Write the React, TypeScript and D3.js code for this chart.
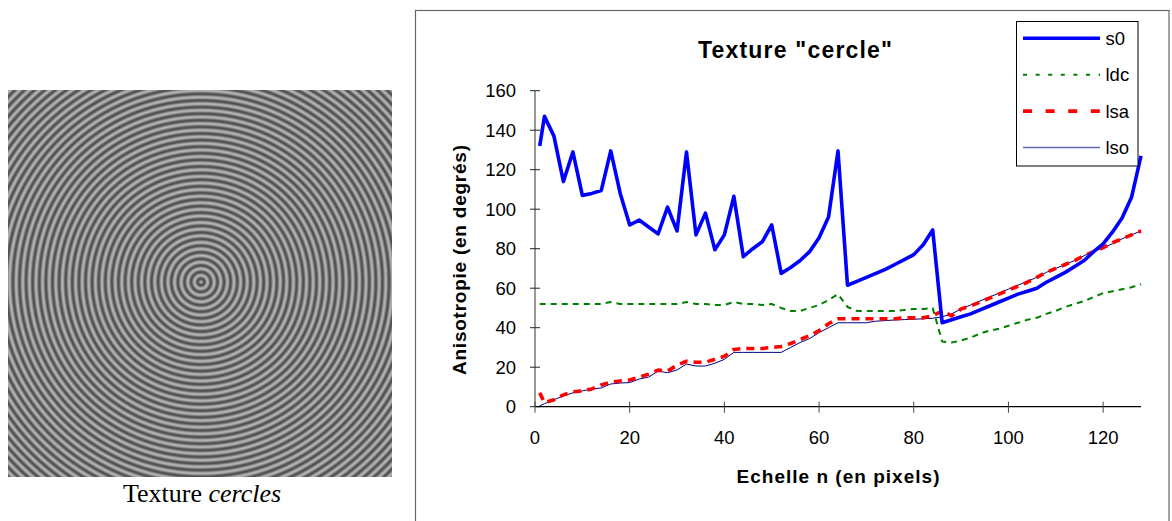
import React from "react";
import * as d3 from "d3";

// Echelle n (en pixels)
const scaleN = [1, 2, 4, 6, 8, 10, 12, 14, 16, 18, 20, 22, 24, 26, 28, 30, 32, 34, 36, 38, 40, 42, 44, 46, 48, 50, 52, 54, 56, 58, 60, 62, 64, 66, 68, 70, 72, 74, 76, 78, 80, 82, 84, 86, 88, 90, 92, 94, 96, 98, 100, 102, 104, 106, 108, 110, 112, 114, 116, 118, 120, 122, 124, 126, 128];

const s0 = [132, 147, 137, 114, 129, 107, 108, 109.5, 129.5, 108, 92, 94.5, 91, 87.5, 101, 89, 129, 87, 98, 79.5, 87, 106.5, 76, 80, 83.5, 92, 67.5, 70.5, 74, 78.5, 85.5, 96, 129.5, 61.5, 63.5, 65.5, 67.5, 69.5, 72, 74.5, 77, 82, 89.5, 42.5, 44, 45.5, 47, 49, 51, 53, 55, 57, 58.5, 60, 63, 65.5, 68, 71, 74, 78.5, 82.5, 88.5, 95.5, 106, 127];

const ldc = [52, 52, 52, 52, 52, 52, 52, 52, 53, 52, 52, 52, 52, 52, 52, 52, 53, 52, 52, 51.5, 51.5, 53, 52, 52, 51.5, 52, 50, 48.5, 48.5, 50, 51.5, 54, 57, 50.5, 48.5, 48.5, 48.5, 48.5, 48.5, 49, 49.5, 49.5, 50, 33, 32.5, 33.5, 35, 37, 38.5, 39.5, 41, 42.5, 44, 45, 47, 48.5, 50.5, 52, 53.5, 55.5, 57.5, 58.5, 59.5, 60.5, 62];

const lsa = [7, 2, 3.5, 6, 7.5, 8, 9, 11, 12.5, 13, 13.5, 15, 16.5, 18.5, 18, 21, 23, 22.5, 22.5, 24, 25.5, 29, 29.5, 29.5, 29.5, 30, 30.5, 32, 34, 36, 38.5, 42, 44.5, 44.5, 44.5, 44.5, 44.5, 44.5, 44.5, 45, 45, 45, 46, 48.5, 46, 49.5, 51, 53, 55, 57, 59, 61, 63, 65.5, 68, 70, 72, 74, 76.5, 78.5, 80.5, 83, 85, 87, 89];

const lso = [0.5, 1.5, 3.5, 5.5, 7, 8, 9, 9.5, 11.5, 12, 12.2, 14, 15, 18, 17.2, 18.6, 21.6, 20.6, 20.6, 22, 24, 27.5, 27.5, 27.5, 27.5, 27.5, 27.5, 30, 32.5, 34.5, 37.5, 40, 42.5, 42.5, 42.5, 42.5, 43.3, 43.6, 43.9, 44.1, 44.3, 44.5, 44.8, 45.5, 47, 49.5, 51.5, 53.5, 55.5, 57.5, 59.5, 61.5, 63.5, 65.5, 68, 70, 72, 74, 76.5, 78.5, 80.5, 82.5, 85, 87, 89];

const xTicks = [0, 20, 40, 60, 80, 100, 120];
const yTicks = [0, 20, 40, 60, 80, 100, 120, 140, 160];

const seriesNames = ["s0", "ldc", "lsa", "lso"];
const seriesValues = [s0, ldc, lsa, lso];
const seriesStyles = [
  { color: "#0000FF", width: 3.6, dash: null, legendDash: null },
  { color: "#008000", width: 2, dash: "6,5", legendDash: "4,8.6" },
  { color: "#FF0000", width: 3.6, dash: "8,6", legendDash: "9,13.6" },
  { color: "#000080", width: 1, dash: null, legendDash: null },
];

const SANS = "'Liberation Sans', Arial, sans-serif";
const SERIF = "'Liberation Serif', 'Times New Roman', serif";

export default function App() {
  const x = d3.scaleLinear().domain([0, 128]).range([535, 1141]);
  const y = d3.scaleLinear().domain([0, 160]).range([406.7, 90.7]);
  const lineGen = d3
    .line<number>()
    .x((_, i) => x(scaleN[i]))
    .y((v) => y(v));

  // texture ring stops (sinusoidal profile)
  const period = 6.6;
  const ringStops = d3.range(0, 17).map((i) => {
    const t = i / 16;
    const g = Math.round(129 + 50 * Math.cos(2 * Math.PI * t));
    return { offset: t, color: `rgb(${g},${g},${g})` };
  });

  const legendY = [38.3, 74.7, 111.1, 147.5];

  return (
    <svg
      width={1172}
      height={521}
      style={{ position: "absolute", left: 0, top: 0, background: "#fff" }}
    >
      <defs>
        <radialGradient
          id="rings"
          gradientUnits="userSpaceOnUse"
          cx={201}
          cy={282}
          r={period}
          fx={201}
          fy={282}
          spreadMethod="repeat"
        >
          {ringStops.map((s, i) => (
            <stop key={i} offset={s.offset} stopColor={s.color} />
          ))}
        </radialGradient>
      </defs>

      {/* Texture image */}
      <rect x={8} y={90} width={384} height={387} fill="url(#rings)" />
      <text x={202} y={502} textAnchor="middle" fontFamily={SERIF} fontSize={26}>
        Texture <tspan fontStyle="italic">cercles</tspan>
      </text>

      {/* Chart frame */}
      <rect x={415.5} y={10.5} width={753.5} height={530} fill="#fff" stroke="#666" strokeWidth={1.2} />

      {/* Title */}
      <text
        x={795}
        y={58}
        textAnchor="middle"
        fontFamily={SANS}
        fontWeight="bold"
        fontSize={23}
        textLength={194}
        lengthAdjust="spacing"
      >
        Texture "cercle"
      </text>

      {/* Y axis */}
      <line x1={x(0)} x2={x(0)} y1={y(160)} y2={y(0)} stroke="#555" strokeWidth={1.2} />
      {yTicks.map((t) => (
        <g key={"y" + t}>
          <line x1={x(0) - 5} x2={x(0) + 5} y1={y(t)} y2={y(t)} stroke="#222" strokeWidth={1} />
          <text x={516} y={y(t) + 6.6} textAnchor="end" fontFamily={SANS} fontSize={18.5}>
            {t}
          </text>
        </g>
      ))}

      {/* X axis */}
      <line x1={x(0)} x2={x(128)} y1={y(0)} y2={y(0)} stroke="#000" strokeWidth={1.2} />
      {xTicks.map((t) => (
        <g key={"x" + t}>
          <line x1={x(t)} x2={x(t)} y1={y(0) - 5} y2={y(0) + 6} stroke="#444" strokeWidth={1} />
          <text x={x(t)} y={443.5} textAnchor="middle" fontFamily={SANS} fontSize={18.5}>
            {t}
          </text>
        </g>
      ))}

      {/* Axis titles */}
      <text
        x={838}
        y={483}
        textAnchor="middle"
        fontFamily={SANS}
        fontWeight="bold"
        fontSize={19}
        textLength={203}
        lengthAdjust="spacing"
      >
        Echelle n (en pixels)
      </text>
      <text
        transform="translate(466,260) rotate(-90)"
        textAnchor="middle"
        fontFamily={SANS}
        fontWeight="bold"
        fontSize={19}
        textLength={230}
        lengthAdjust="spacing"
      >
        Anisotropie (en degrés)
      </text>

      {/* Series (drawn back to front) */}
      {[1, 3, 2, 0].map((k) => (
        <path
          key={seriesNames[k]}
          d={lineGen(seriesValues[k]) || ""}
          fill="none"
          stroke={seriesStyles[k].color}
          strokeWidth={seriesStyles[k].width}
          strokeDasharray={seriesStyles[k].dash || undefined}
          strokeLinejoin="round"
        />
      ))}

      {/* Legend */}
      <rect x={1016.5} y={21.5} width={121.5} height={144.5} fill="#fff" stroke="#000" strokeWidth={1} />
      {seriesNames.map((name, k) => (
        <g key={"lg" + name}>
          <line
            x1={1023}
            x2={1100}
            y1={legendY[k]}
            y2={legendY[k]}
            stroke={seriesStyles[k].color}
            strokeWidth={k === 3 ? 1.5 : seriesStyles[k].width}
            strokeOpacity={k === 3 ? 0.6 : 1}
            strokeDasharray={seriesStyles[k].legendDash || undefined}
          />
          <text x={1105.5} y={legendY[k] + 6.6} fontFamily={SANS} fontSize={18.5}>
            {name}
          </text>
        </g>
      ))}
    </svg>
  );
}
